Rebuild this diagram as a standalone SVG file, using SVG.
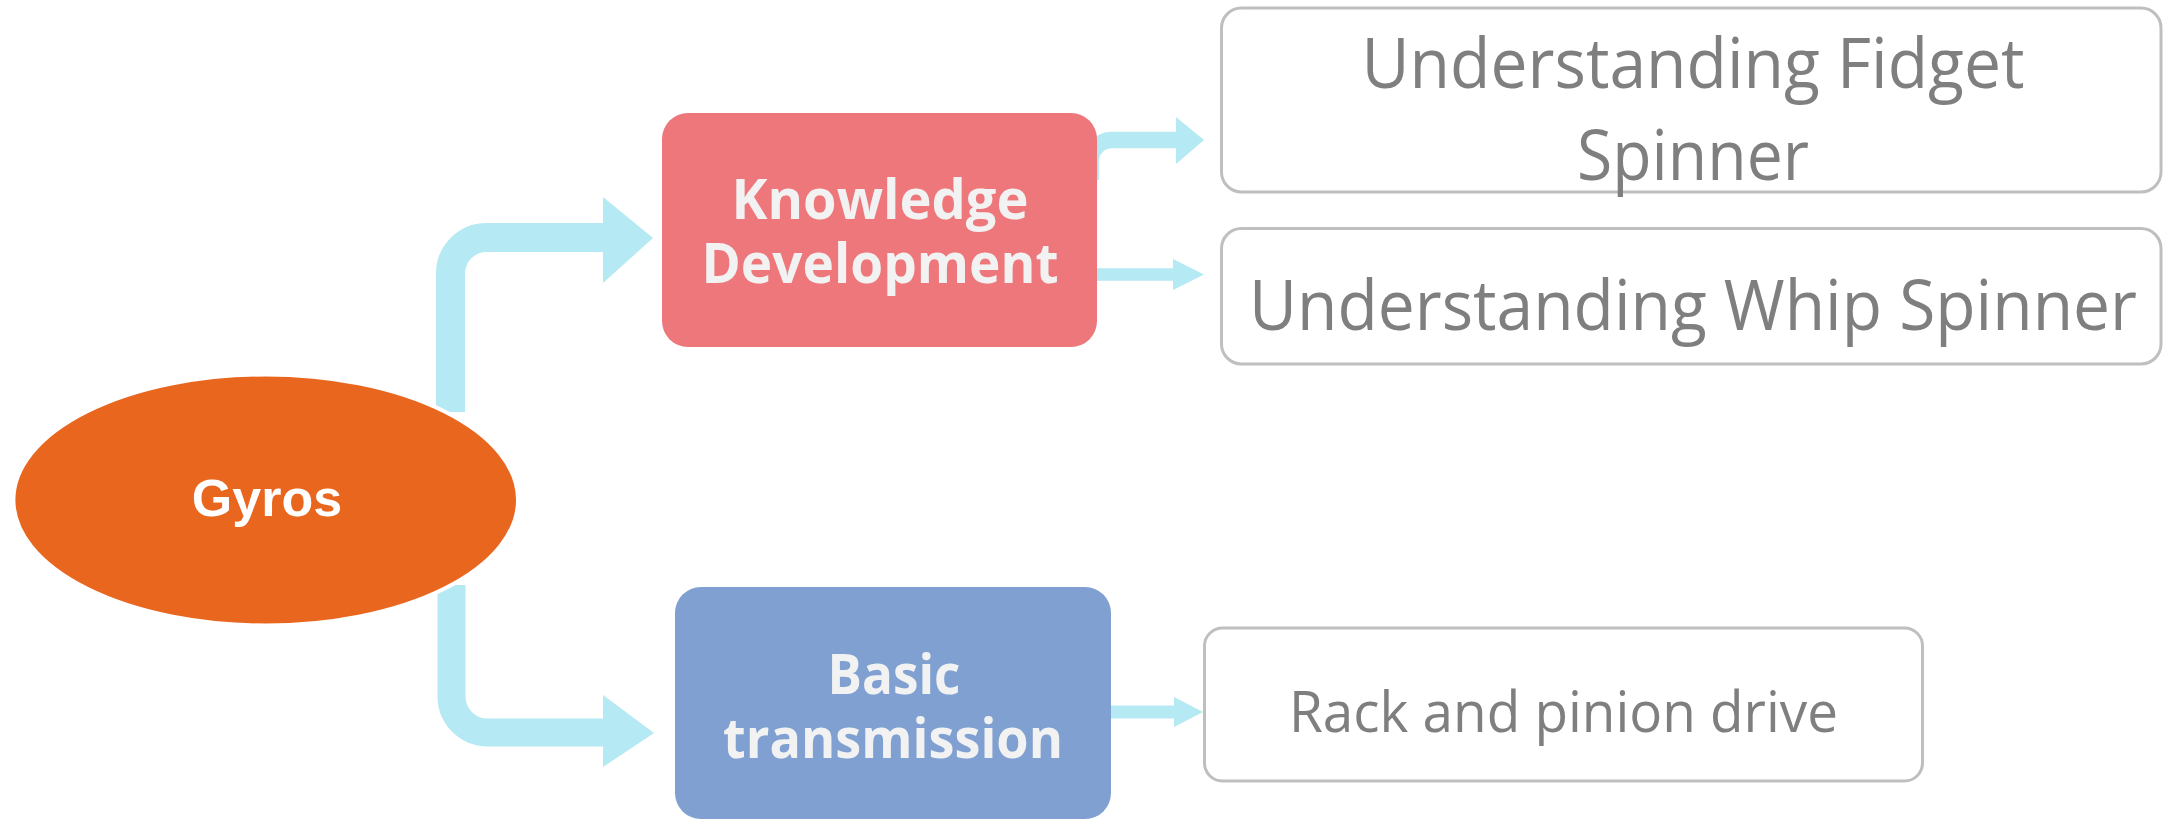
<svg xmlns="http://www.w3.org/2000/svg" width="2165" height="820" viewBox="0 0 2165 820">
  <style>
    .band { fill: none; stroke: #B5E9F3; stroke-linecap: butt; stroke-linejoin: round; }
    .head { fill: #B5E9F3; stroke: none; }
    .leaf { fill: #FFFFFF; stroke: #BFBFBF; stroke-width: 3; }
    .leafText { font-family: "Open Sans", "Noto Sans", "Liberation Sans", sans-serif; fill: #7F7F7F; text-anchor: middle; }
    .midText { font-family: "Open Sans", "Noto Sans", "Liberation Sans", sans-serif; font-weight: bold; fill: #F2F2F2; text-anchor: middle; font-size: 55px; }
  </style>
  <rect x="0" y="0" width="2165" height="820" fill="#FFFFFF"/>

  <g id="connectors">
    <path class="band" stroke-width="29" d="M 450.5 412 V 274 A 36 36 0 0 1 486.5 237.5 H 605"/>
    <polygon class="head" points="603,197 653,238 603,283"/>
    <path class="band" stroke-width="28" d="M 451.5 585 V 697 A 36 36 0 0 0 487.5 732.5 H 605"/>
    <polygon class="head" points="603,695 654,733 603,767"/>
    <path class="band" stroke-width="16.6" d="M 1090.7 180 V 161 A 21 21 0 0 1 1111.7 140 H 1177"/>
    <polygon class="head" points="1176,117 1204,140 1176,164"/>
    <path class="band" stroke-width="12.7" d="M 1090 274.5 H 1174"/>
    <polygon class="head" points="1173,259 1204,274.5 1173,290"/>
    <path class="band" stroke-width="13" d="M 1105 712 H 1175"/>
    <polygon class="head" points="1174,697 1203,712 1174,727"/>
  </g>

  <g id="node-gyros">
    <ellipse cx="265.7" cy="500" rx="252.3" ry="125.5" fill="#E9661E" stroke="#FFFFFF" stroke-width="4"/>
    <text x="267" y="516" font-family="Liberation Sans, Arial, sans-serif" font-weight="bold" font-size="52" fill="#FFFFFF" text-anchor="middle">Gyros</text>
  </g>

  <g id="node-knowledge">
    <rect x="662" y="113" width="435" height="234" rx="26" ry="26" fill="#ED777B"/>
    <text class="midText" x="880" y="219" textLength="297" lengthAdjust="spacingAndGlyphs">Knowledge</text>
    <text class="midText" x="880" y="283" textLength="357" lengthAdjust="spacingAndGlyphs">Development</text>
  </g>

  <g id="node-basic">
    <rect x="675" y="587" width="436" height="232" rx="26" ry="26" fill="#7FA0D0"/>
    <text class="midText" x="894" y="694" textLength="133" lengthAdjust="spacingAndGlyphs">Basic</text>
    <text class="midText" x="893" y="758" textLength="340" lengthAdjust="spacingAndGlyphs">transmission</text>
  </g>

  <g id="node-fidget">
    <rect class="leaf" x="1221.5" y="8" width="939.5" height="184" rx="20" ry="20"/>
    <text class="leafText" font-size="69" x="1693" y="88" textLength="663" lengthAdjust="spacingAndGlyphs">Understanding Fidget</text>
    <text class="leafText" font-size="69" x="1693" y="180" textLength="232" lengthAdjust="spacingAndGlyphs">Spinner</text>
  </g>

  <g id="node-whip">
    <rect class="leaf" x="1221.5" y="228.5" width="939.5" height="135.5" rx="20" ry="20"/>
    <text class="leafText" font-size="69" x="1693" y="330" textLength="888" lengthAdjust="spacingAndGlyphs">Understanding Whip Spinner</text>
  </g>

  <g id="node-rack">
    <rect class="leaf" x="1204.5" y="628" width="718" height="153" rx="18" ry="18"/>
    <text class="leafText" font-size="57" x="1563.5" y="732" textLength="549" lengthAdjust="spacingAndGlyphs">Rack and pinion drive</text>
  </g>
</svg>
